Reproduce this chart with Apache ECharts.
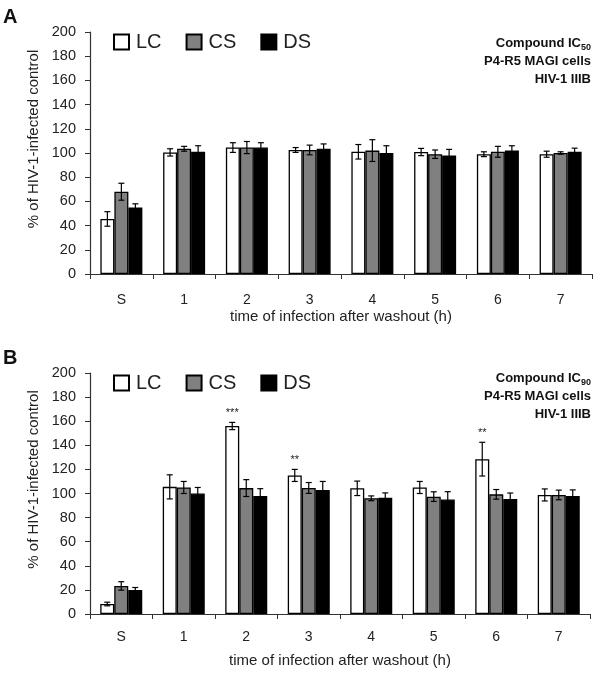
<!DOCTYPE html>
<html><head><meta charset="utf-8">
<script src="https://cdn.jsdelivr.net/npm/echarts@6/dist/echarts.min.js"></script>
<style>html,body{margin:0;padding:0;background:#fff}#c{width:600px;height:675px}</style>
</head><body><div id="c"></div>
<script>
const categories = ['S','1','2','3','4','5','6','7'];
const seriesNames = ['LC','CS','DS'];
const yTicks = [0,20,40,60,80,100,120,140,160,180,200];
// Panel A (IC50)
const A_LC = [45.5, 100.5, 104.5, 102.5, 101, 100.8, 99, 99];
const A_CS = [68, 103.5, 104.5, 102.5, 102, 99, 101, 100];
const A_DS = [55, 101, 104.5, 103.5, 100, 98, 102, 101];
const A_LC_err = [6, 3, 4, 2, 6, 3, 2, 2.5];
const A_CS_err = [7, 2, 5, 4, 9, 3.5, 4.5, 1];
const A_DS_err = [3, 5, 4, 4, 6, 5, 4, 3];
// Panel B (IC90)
const B_LC = [8.3, 105.5, 156, 115, 104.3, 105, 128.5, 98.8];
const B_CS = [23.3, 105, 104.5, 104.6, 96, 97.4, 99.3, 98.8];
const B_DS = [20, 100, 98, 103, 96.5, 95, 95.4, 98];
const B_LC_err = [1.5, 10, 3, 5, 6, 5, 14, 5];
const B_CS_err = [3.5, 5, 7, 4.5, 2, 4, 4, 4];
const B_DS_err = [2, 5, 6, 7, 4, 6.5, 5, 5];
const B_sig = ['', '', '***', '**', '', '', '**', ''];
const A_sig = ['', '', '', '', '', '', '', ''];

const colors = ['#ffffff', '#808080', '#000000'];
const FONT = 'Liberation Sans, Arial, sans-serif';
const BARW = 14;

function barSeries(name, data, idx, ci) {
  return {
    name: name, type: 'bar', xAxisIndex: idx, yAxisIndex: idx,
    data: data, barWidth: BARW, barGap: '0%',
    itemStyle: { color: colors[ci], borderColor: '#000', borderWidth: 1.3 },
    emphasis: { disabled: true }, z: 2
  };
}
function errSeries(vals, errs, idx, sig) {
  const d = [];
  for (let s = 0; s < 3; s++) {
    for (let i = 0; i < categories.length; i++) d.push([i, vals[s][i], errs[s][i], s]);
  }
  return {
    type: 'custom', xAxisIndex: idx, yAxisIndex: idx, z: 5, silent: true,
    encode: { x: 0, y: 1 },
    data: d,
    renderItem: function (params, api) {
      const i = api.value(0), v = api.value(1), e = api.value(2), s = api.value(3);
      const top = api.coord([i, v + e]);
      const bot = api.coord([i, v - e]);
      const x = top[0] + (s - 1) * BARW;
      const cap = 3;
      const st = { stroke: '#000', lineWidth: 1.2 };
      const children = [
        { type: 'line', shape: { x1: x, y1: top[1], x2: x, y2: bot[1] }, style: st },
        { type: 'line', shape: { x1: x - cap, y1: top[1], x2: x + cap, y2: top[1] }, style: st },
        { type: 'line', shape: { x1: x - cap, y1: bot[1], x2: x + cap, y2: bot[1] }, style: st }
      ];
      if (s === 0 && sig[i]) {
        children.push({ type: 'text', x: x, y: top[1] - 4,
          style: { text: sig[i], fill: '#222', font: '11px ' + FONT, align: 'center', verticalAlign: 'bottom' } });
      }
      return { type: 'group', children: children };
    }
  };
}
function xAxis(idx, labelMargin, nameGap) {
  return {
    type: 'category', gridIndex: idx, data: categories,
    name: 'time of infection after washout (h)', nameLocation: 'middle', nameGap: nameGap,
    nameTextStyle: { fontFamily: FONT, fontSize: 15, color: '#222' },
    axisLine: { lineStyle: { color: '#333', width: 1.2 } },
    axisTick: { show: true, length: 5, lineStyle: { color: '#333' } },
    axisLabel: { fontFamily: FONT, fontSize: 14, color: '#222', margin: labelMargin }
  };
}
function yAxis(idx) {
  return {
    type: 'value', gridIndex: idx, min: yTicks[0], max: yTicks[yTicks.length - 1], interval: 20,
    name: '% of HIV-1-infected control', nameLocation: 'middle', nameGap: 49, nameRotate: 90,
    nameTextStyle: { fontFamily: FONT, fontSize: 15, color: '#222', padding: [0, 0, 0, 28] },
    axisLine: { show: true, lineStyle: { color: '#333', width: 1.2 } },
    axisTick: { show: true, length: 5, lineStyle: { color: '#333' } },
    splitLine: { show: false },
    axisLabel: { fontFamily: FONT, fontSize: 14.5, color: '#222', margin: 14 }
  };
}
function legend(top) {
  return {
    data: seriesNames, left: 108, top: top, itemWidth: 15, itemHeight: 15, itemGap: 24,
    icon: 'rect', selectedMode: false,
    textStyle: { fontFamily: FONT, fontSize: 20, color: '#222', padding: [2, 0, 0, 2] }
  };
}
function info(top, sub) {
  return {
    type: 'text', right: 9, top: top,
    style: {
      text: '{a|Compound IC}{s|' + sub + '}\n{a|P4-R5 MAGI cells}\n{a|HIV-1 IIIB}',
      align: 'right',
      rich: {
        a: { fontFamily: FONT, fontSize: 13, fontWeight: 'bold', fill: '#111', lineHeight: 18, align: 'right' },
        s: { fontFamily: FONT, fontSize: 9, fontWeight: 'bold', fill: '#111', lineHeight: 18, padding: [8, 0, 0, 0], align: 'right' }
      }
    }
  };
}

const chart = echarts.init(document.getElementById('c'), null, { renderer: 'canvas' });
chart.setOption({
  backgroundColor: '#fff',
  animation: false,
  color: colors,
  legend: [legend(27), legend(368)],
  grid: [
    { left: 90, right: 8, top: 32, height: 242 },
    { left: 90, right: 10, top: 373, height: 241 }
  ],
  xAxis: [xAxis(0, 19, 35), xAxis(1, 16, 39)],
  yAxis: [yAxis(0), yAxis(1)],
  graphic: [
    { type: 'text', left: 3, top: 7, style: { text: 'A', font: 'bold 20px ' + FONT, fill: '#111' } },
    { type: 'text', left: 3, top: 348, style: { text: 'B', font: 'bold 20px ' + FONT, fill: '#111' } },
    info(35, '50'),
    info(370, '90')
  ],
  series: [
    barSeries('LC', A_LC, 0, 0), barSeries('CS', A_CS, 0, 1), barSeries('DS', A_DS, 0, 2),
    barSeries('LC', B_LC, 1, 0), barSeries('CS', B_CS, 1, 1), barSeries('DS', B_DS, 1, 2),
    errSeries([A_LC, A_CS, A_DS], [A_LC_err, A_CS_err, A_DS_err], 0, A_sig),
    errSeries([B_LC, B_CS, B_DS], [B_LC_err, B_CS_err, B_DS_err], 1, B_sig)
  ]
});
</script></body></html>
